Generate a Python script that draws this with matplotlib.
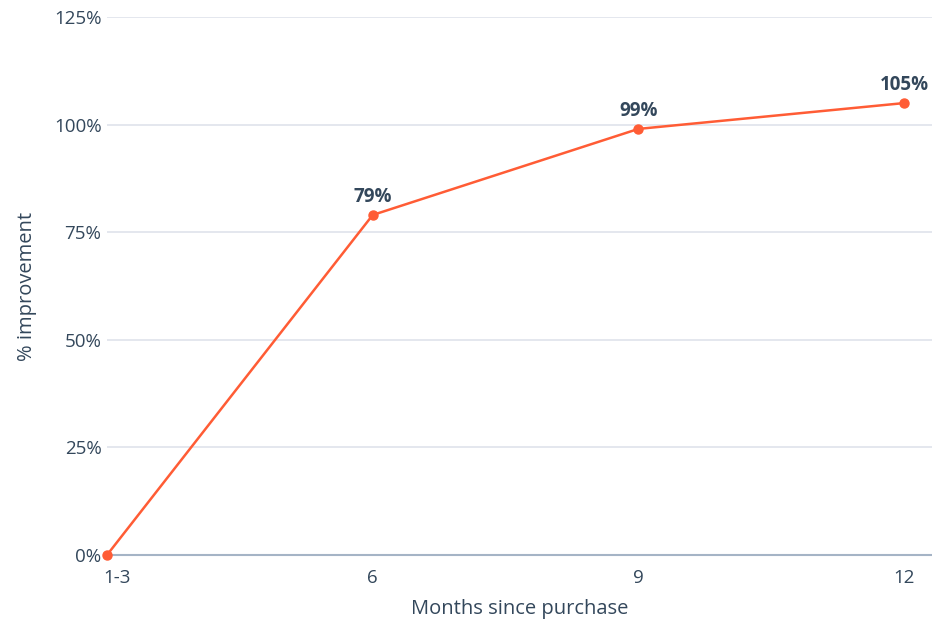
import matplotlib
matplotlib.use("Agg")
import matplotlib.pyplot as plt
from matplotlib.ticker import FuncFormatter
import matplotlib.transforms as mtransforms

categories = ["1-3", "6", "9", "12"]
values = [0, 79, 99, 105]
labels = ["", "79%", "99%", "105%"]
yticks = [0, 25, 50, 75, 100, 125]

plt.rcParams['font.family'] = ['Open Sans', 'DejaVu Sans']
text_color = "#33475B"
line_color = "#FF5C35"
grid_color = "#DFE3EB"
base_color = "#A5B4C6"

fig = plt.figure(figsize=(9.32, 6.24), dpi=100)
ax = fig.add_axes([107/932, 1-555/624, 1-107/932, (555-17)/624])

x = list(range(len(categories)))
ax.plot(x, values, color=line_color, lw=1.8, marker='o', ms=6.5, zorder=3, clip_on=False)
for xi, v, lab in zip(x, values, labels):
    if lab:
        ax.annotate(lab, (xi, v), xytext=(0, 6), textcoords='offset points',
                    ha='center', va='bottom', fontsize=13.5, fontweight='bold', color=text_color)

ax.set_xlim(0, 3.105)
ax.set_ylim(0, 125)
ax.set_yticks(yticks)
ax.yaxis.set_major_formatter(FuncFormatter(lambda v, p: f"{int(v)}%"))
ax.set_xticks(x)
ax.set_xticklabels(categories)
ax.grid(axis='y', color=grid_color, lw=1.2)
ax.set_axisbelow(True)
for s in ['top', 'right', 'left']:
    ax.spines[s].set_visible(False)
ax.spines['bottom'].set_color(base_color)
ax.spines['bottom'].set_linewidth(1.5)
ax.tick_params(axis='both', length=0, labelsize=13.5, colors=text_color)
ax.tick_params(axis='y', pad=4)
ax.tick_params(axis='x', pad=10)
first = ax.get_xticklabels()[0]
first.set_horizontalalignment('left')
first.set_transform(first.get_transform() + mtransforms.ScaledTranslation(-4/100, 0, fig.dpi_scale_trans))

ax.set_xlabel("Months since purchase", fontsize=14.5, color=text_color, labelpad=9)
ax.set_ylabel("% improvement", fontsize=14.5, color=text_color, labelpad=12)

fig.savefig("out.png", dpi=100)
